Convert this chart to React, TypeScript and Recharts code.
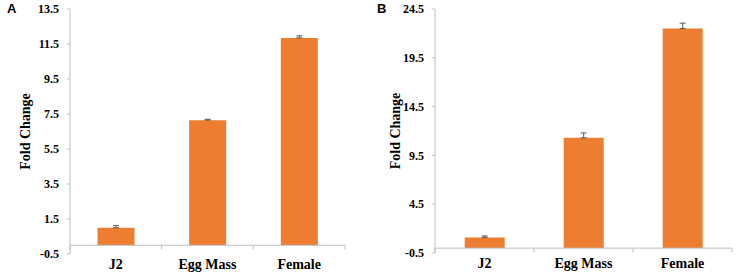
import React from "react";
import { BarChart, Bar, XAxis, YAxis, ReferenceLine, ErrorBar } from "recharts";

const categories = ["J2", "Egg Mass", "Female"];
const foldA = [1.0, 7.15, 11.85];
const errA = [0.12, 0.05, 0.12];
const ticksA = [-0.5, 1.5, 3.5, 5.5, 7.5, 9.5, 11.5, 13.5];
const foldB = [1.1, 11.3, 22.5];
const errB = [0.15, 0.5, 0.55];
const ticksB = [-0.5, 4.5, 9.5, 14.5, 19.5, 24.5];
const edges = [0, 1, 2, 3];

const ORANGE = "#ED7D31";
const AXIS = "#BFBFBF";
const SERIF = "'Liberation Serif', 'Times New Roman', serif";

function buildRows(vals: number[], errs: number[]) {
  return categories.map((name, i) => ({
    name,
    pos: i + 0.5,
    fold: vals[i],
    err: [0, errs[i]],
  }));
}

type PanelProps = {
  letter: string;
  left: number;
  width: number;
  axisWidth: number;
  marginRight: number;
  marginTop: number;
  bottom: number;
  rows: ReturnType<typeof buildRows>;
  ticks: number[];
  tickDrop: number;
};

function Panel(p: PanelProps) {
  const height = 278;
  return (
    <div style={{ position: "absolute", left: p.left, top: 0, width: p.width, height }}>
      <BarChart
        width={p.width}
        height={height}
        data={p.rows}
        margin={{ top: p.marginTop, right: p.marginRight, bottom: 0, left: 0 }}
        barCategoryGap="30%"
      >
        <XAxis
          xAxisId="cat"
          dataKey="name"
          axisLine={false}
          tickLine={false}
          tickSize={0}
          tickMargin={5}
          height={height - p.bottom}
          interval={0}
          tick={{ fill: "#000", fontSize: 14 }}
        />
        <XAxis xAxisId="edge" dataKey="pos" type="number" domain={[0, 3]} allowDataOverflow hide />
        <YAxis
          width={p.axisWidth}
          domain={[p.ticks[0], p.ticks[p.ticks.length - 1]]}
          ticks={p.ticks}
          interval={0}
          allowDataOverflow
          axisLine={{ stroke: AXIS }}
          tickLine={{ stroke: AXIS }}
          tickSize={3}
          tickMargin={8}
          tick={{ fill: "#000", fontSize: 12 }}
          label={{
            value: "Fold Change",
            angle: -90,
            position: "insideLeft",
            offset: 25,
            style: { textAnchor: "middle", fill: "#000", fontSize: 14 },
          }}
        />
        <ReferenceLine xAxisId="cat" y={0} stroke={AXIS} strokeWidth={1} />
        {edges.map((e) => (
          <ReferenceLine
            key={e}
            xAxisId="edge"
            segment={[
              { x: e, y: 0 },
              { x: e, y: -p.tickDrop },
            ]}
            stroke={AXIS}
          />
        ))}
        <Bar xAxisId="cat" dataKey="fold" fill={ORANGE} isAnimationActive={false}>
          <ErrorBar dataKey="err" direction="y" width={3} stroke="#595959" strokeWidth={1} />
        </Bar>
      </BarChart>
      <span
        style={{
          position: "absolute",
          left: 7,
          top: 1,
          fontFamily: "'Liberation Sans', Arial, sans-serif",
          fontWeight: 700,
          fontSize: 13,
          lineHeight: "16px",
        }}
      >
        {p.letter}
      </span>
    </div>
  );
}

export default function App() {
  return (
    <div style={{ position: "absolute", left: 0, top: 0, width: 737, height: 278, background: "#fff" }}>
      <style>{`.recharts-wrapper svg text { font-family: ${SERIF}; font-weight: 700; }`}</style>
      <Panel
        letter="A"
        left={0}
        width={370}
        axisWidth={70}
        marginRight={25}
        marginTop={9}
        bottom={254}
        rows={buildRows(foldA, errA)}
        ticks={ticksA}
        tickDrop={0.25}
      />
      <Panel
        letter="B"
        left={370}
        width={367}
        axisWidth={65}
        marginRight={5}
        marginTop={9}
        bottom={253}
        rows={buildRows(foldB, errB)}
        ticks={ticksB}
        tickDrop={0.45}
      />
    </div>
  );
}
